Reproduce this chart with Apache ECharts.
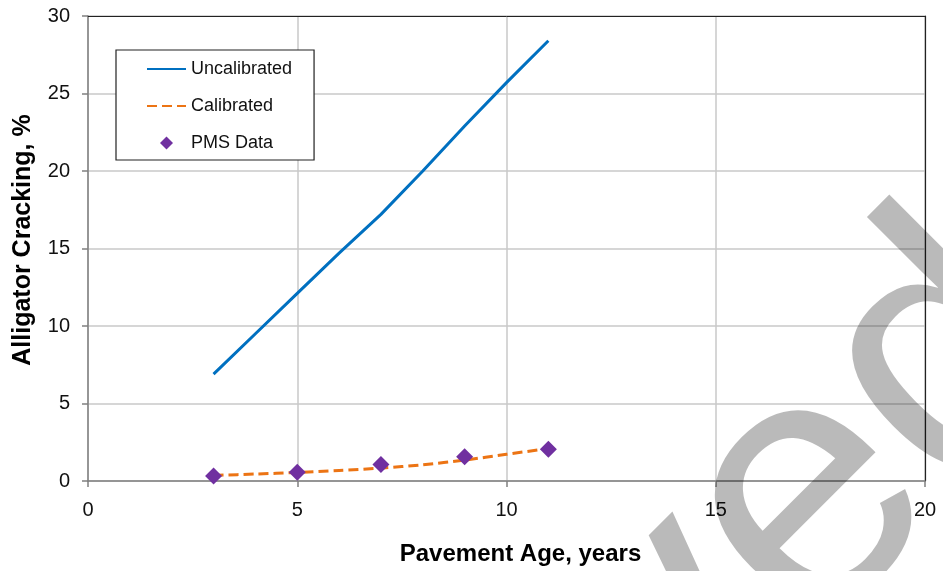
<!DOCTYPE html>
<html>
<head>
<meta charset="utf-8">
<script src="https://cdn.jsdelivr.net/npm/echarts@6/dist/echarts.min.js"></script>
<style>html,body{margin:0;padding:0;background:#fff}#c{width:943px;height:571px}</style>
</head>
<body>
<div id="c"></div>
<script>
var ageYears = [3, 4, 5, 6, 7, 8, 9, 10, 11];
var uncalibrated = [6.9, 9.5, 12.1, 14.7, 17.2, 20.0, 22.9, 25.7, 28.4];
var calibrated = [0.36, 0.45, 0.55, 0.68, 0.83, 1.05, 1.35, 1.72, 2.1];
var pmsAge = [3, 5, 7, 9, 11];
var pmsData = [0.32, 0.56, 1.07, 1.57, 2.05];
var xTicks = [0, 5, 10, 15, 20];
var yTicks = [0, 5, 10, 15, 20, 25, 30];

function pairs(xs, ys) { return xs.map(function (x, i) { return [x, ys[i]]; }); }

var chart = echarts.init(document.getElementById('c'));
var font = '"Liberation Sans", Arial, sans-serif';
var xMin = xTicks[0], xMax = xTicks[xTicks.length - 1];
var yMin = yTicks[0], yMax = yTicks[yTicks.length - 1];
chart.setOption({
  animation: false,
  backgroundColor: '#fff',
  grid: { left: 88, right: 18, top: 16, bottom: 90 },
  xAxis: [{
    type: 'value', min: xMin, max: xMax, interval: 5,
    name: 'Pavement Age, years', nameLocation: 'middle', nameGap: 61,
    nameTextStyle: { fontFamily: font, fontSize: 24, fontWeight: 'bold', color: '#000', padding: [0, 0, 0, 28] },
    axisLine: { show: true, onZero: false, lineStyle: { color: '#808080', width: 1.5 } },
    axisTick: { show: true, length: 6, lineStyle: { color: '#808080', width: 1.5 } },
    axisLabel: { fontFamily: font, fontSize: 20, color: '#111', margin: 19 },
    splitLine: { show: true, lineStyle: { color: '#c8c8c8', width: 1.5 } }
  }, {
    type: 'value', position: 'top', min: xMin, max: xMax, interval: 5,
    axisLine: { show: true, onZero: false, lineStyle: { color: '#222', width: 1 } },
    axisTick: { show: false }, axisLabel: { show: false }, splitLine: { show: false }
  }],
  yAxis: [{
    type: 'value', min: yMin, max: yMax, interval: 5,
    name: 'Alligator Cracking, %', nameLocation: 'middle', nameGap: 52,
    nameTextStyle: { fontFamily: font, fontSize: 25, fontWeight: 'bold', color: '#000', padding: [0, 0, 0, 17] },
    axisLine: { show: true, onZero: false, lineStyle: { color: '#808080', width: 1.5 } },
    axisTick: { show: true, length: 6, lineStyle: { color: '#808080', width: 1.5 } },
    axisLabel: { fontFamily: font, fontSize: 20, color: '#111', margin: 18 },
    splitLine: { show: true, lineStyle: { color: '#c8c8c8', width: 1.5 } }
  }, {
    type: 'value', position: 'right', min: yMin, max: yMax, interval: 5,
    axisLine: { show: true, onZero: false, lineStyle: { color: '#222', width: 1.2 } },
    axisTick: { show: false }, axisLabel: { show: false }, splitLine: { show: false }
  }],
  legend: {
    orient: 'vertical', left: 116, top: 50,
    padding: [10, 22, 8, 30],
    itemWidth: 39, itemHeight: 13, itemGap: 19,
    symbolKeepAspect: true,
    backgroundColor: '#fff', borderColor: '#222', borderWidth: 1.2,
    textStyle: { fontFamily: font, fontSize: 18, color: '#111', lineHeight: 18 },
    data: [
      { name: 'Uncalibrated', itemStyle: { opacity: 0 } },
      { name: 'Calibrated', itemStyle: { opacity: 0 } },
      { name: 'PMS Data', icon: 'path://M6,0L12,6L6,12L0,6Z', itemStyle: { opacity: 1 } }
    ]
  },
  series: [
    {
      name: 'Uncalibrated', type: 'line', data: pairs(ageYears, uncalibrated),
      symbol: 'none', showSymbol: false,
      lineStyle: { color: '#0070C0', width: 3 }, itemStyle: { color: '#0070C0' }, z: 3
    },
    {
      name: 'Calibrated', type: 'line', data: pairs(ageYears, calibrated),
      symbol: 'none', showSymbol: false, smooth: 0.3,
      lineStyle: { color: '#EC7414', width: 3, type: [10, 5] }, itemStyle: { color: '#EC7414' }, z: 3
    },
    {
      name: 'PMS Data', type: 'scatter', data: pairs(pmsAge, pmsData),
      symbol: 'diamond', symbolSize: 17,
      itemStyle: { color: '#7030A0', opacity: 1 }, z: 4
    }
  ],
  graphic: [
    {
      type: 'text', x: 1148, y: 419, rotation: Math.PI / 4, z: 100, silent: true,
      style: { text: 'Archived', x: 0, y: 0, font: '360px "Liberation Sans", Arial, sans-serif', fill: 'rgba(0,0,0,0.27)', align: 'right', verticalAlign: 'bottom', textAlign: 'right', textVerticalAlign: 'bottom' }
    }
  ]
});
</script>
</body>
</html>
